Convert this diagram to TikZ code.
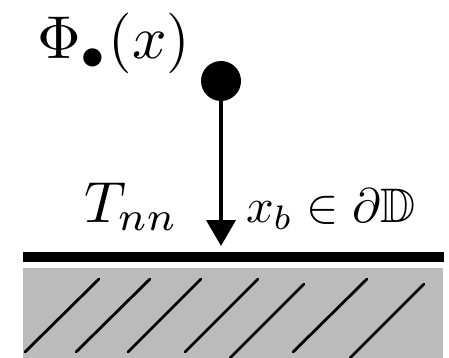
\documentclass[tikz,border=0pt]{standalone}
\usepackage{amssymb}
\usetikzlibrary{arrows.meta}
\definecolor{ground}{HTML}{BBBBBB}
\tikzset{
  lbl/.style={inner sep=0pt, outer sep=0pt},
  hatch/.style={line width=2.8pt, line cap=round},
}
\begin{document}
\begin{tikzpicture}[x=1pt, y=-1pt]
  \useasboundingbox (0,0) rectangle (449,358);
  % ground
  \fill[ground] (23,268) rectangle (443,358);
  \begin{scope}
    \clip (23,268) rectangle (443,358);
    \foreach \a/\b/\c/\d in {25/352/99/279, 76/352/150/279, 128/352/201/279, 185/352/258/279, 230/358/304/284, 293/352/367/279, 350/358/424/284}
      \draw[hatch] (\a,\b) -- (\c,\d);
  \end{scope}
  % wall bar
  \fill[black] (23,252) rectangle (444,262);
  % particle
  \node[circle, fill=black, minimum size=40pt, inner sep=0pt] (dot) at (221,81) {};
  \coordinate (tip) at (221,246);
  \draw[line width=4pt, -{Triangle[length=26pt, width=29pt]}] (dot.center) -- (tip);
  % labels
  \node[lbl, scale=6.05, anchor=base west] (phi) at (37,59) {$\Phi_\bullet(x)$};
  \node[lbl, scale=5.8, anchor=base west] (tnn) at (84,222) {$T_{nn}$};
  \node[lbl, scale=4.85, anchor=base west] (xb) at (246,222) {$x_b\in\partial\mathbb{D}$};
\end{tikzpicture}
\end{document}
